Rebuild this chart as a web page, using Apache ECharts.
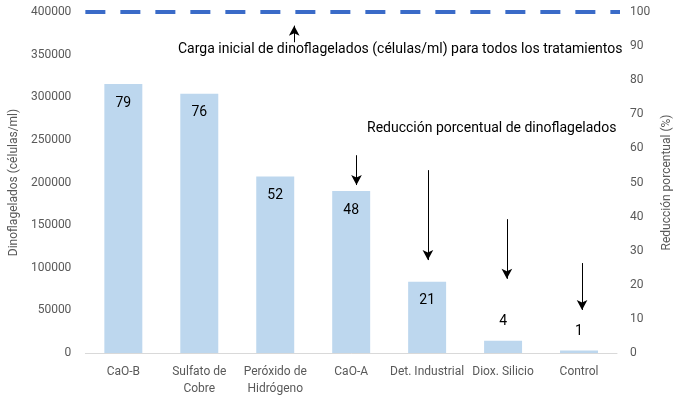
<!DOCTYPE html>
<html>
<head>
<meta charset="utf-8">
<script src="https://cdn.jsdelivr.net/npm/echarts@6/dist/echarts.min.js"></script>
<style>
  html, body { margin: 0; padding: 0; background: #fff; }
  #chart { width: 683px; height: 399px; }
</style>
</head>
<body>
<div id="chart"></div>
<script>
// categorias (tratamientos)
var tratamientos = ['CaO-B', 'Sulfato de\nCobre', 'Peróxido de\nHidrógeno', 'CaO-A', 'Det. Industrial', 'Diox. Silicio', 'Control'];
// dinoflagelados (células/ml)
var celulas = [315500, 304000, 207000, 190000, 83500, 14500, 3000];
// reduccion porcentual (%)
var reduccion = [79, 76, 52, 48, 21, 4, 1];
// carga inicial
var cargaInicial = 400000;

// flechas de anotacion: [x (posicion en eje auxiliar), y inicio, y fin]
var flechas = [
    [2.75, 364500, 384000],
    [3.57, 232000, 197000],
    [4.51, 214500, 109000],
    [5.55, 157000, 87000],
    [6.54, 105500, 50500]
];

var fuente = 'Roboto, "Noto Sans", sans-serif';
var gris = '#595959';

var dom = document.getElementById('chart');
var myChart = echarts.init(dom);

var flechaData = flechas.map(function (f) {
    return [{coord: [f[0], f[1]]}, {coord: [f[0], f[2]]}];
});

var option = {
    animation: false,
    textStyle: {fontFamily: fuente},
    grid: {left: 79, right: 66, top: 12, bottom: 46},
    xAxis: [
        {
            type: 'category',
            data: tratamientos,
            axisLine: {lineStyle: {color: '#D9D9D9', width: 1}},
            axisTick: {show: false},
            axisLabel: {color: gris, fontSize: 12, margin: 10, lineHeight: 17, interval: 0}
        },
        {
            type: 'value',
            min: 0,
            max: 7,
            show: false
        }
    ],
    yAxis: [
        {
            type: 'value',
            min: 0,
            max: 400000,
            interval: 50000,
            name: 'Dinoflagelados (células/ml)',
            nameLocation: 'middle',
            nameRotate: 90,
            nameGap: 48,
            nameTextStyle: {color: gris, fontSize: 12},
            axisLine: {show: false},
            axisTick: {show: false},
            splitLine: {show: false},
            axisLabel: {
                color: gris, fontSize: 12, margin: 14,
                formatter: function (v) { return String(v); }
            }
        },
        {
            type: 'value',
            min: 0,
            max: 100,
            interval: 10,
            position: 'right',
            name: 'Reducción porcentual (%)',
            nameLocation: 'middle',
            nameRotate: 90,
            nameGap: 31,
            nameTextStyle: {color: gris, fontSize: 12},
            axisLine: {show: false},
            axisTick: {show: false},
            splitLine: {show: false},
            axisLabel: {color: gris, fontSize: 12, margin: 13}
        }
    ],
    series: [
        {
            name: 'Dinoflagelados',
            type: 'bar',
            barWidth: '50%',
            itemStyle: {color: '#BDD7EE'},
            data: celulas.map(function (v) {
                return {
                    value: v,
                    label: v > 50000 ? {position: 'insideTop', distance: 12} : {position: 'top', distance: 12}
                };
            }),
            label: {
                show: true,
                color: '#000',
                fontSize: 14,
                formatter: function (p) {
                    return reduccion[p.dataIndex];
                }
            }
        },
        {
            name: 'Carga inicial',
            type: 'line',
            xAxisIndex: 1,
            yAxisIndex: 0,
            clip: false,
            symbol: 'none',
            lineStyle: {color: '#3A6BC8', width: 4, type: [20, 15]},
            data: [[0, cargaInicial], [7.1, cargaInicial]],
            markLine: {
                silent: true,
                symbol: ['none', 'arrow'],
                symbolSize: [8, 10],
                label: {show: false},
                lineStyle: {color: '#000', width: 1, type: 'solid'},
                data: flechaData
            }
        }
    ],
    graphic: [
        {
            type: 'text',
            left: 178,
            top: 42,
            style: {
                text: 'Carga inicial de dinoflagelados (células/ml) para todos los tratamientos',
                fill: '#000',
                font: '14px ' + fuente
            }
        },
        {
            type: 'text',
            left: 367,
            top: 121,
            style: {
                text: 'Reducción porcentual de dinoflagelados',
                fill: '#000',
                font: '14px ' + fuente
            }
        }
    ]
};

myChart.setOption(option);
</script>
</body>
</html>
